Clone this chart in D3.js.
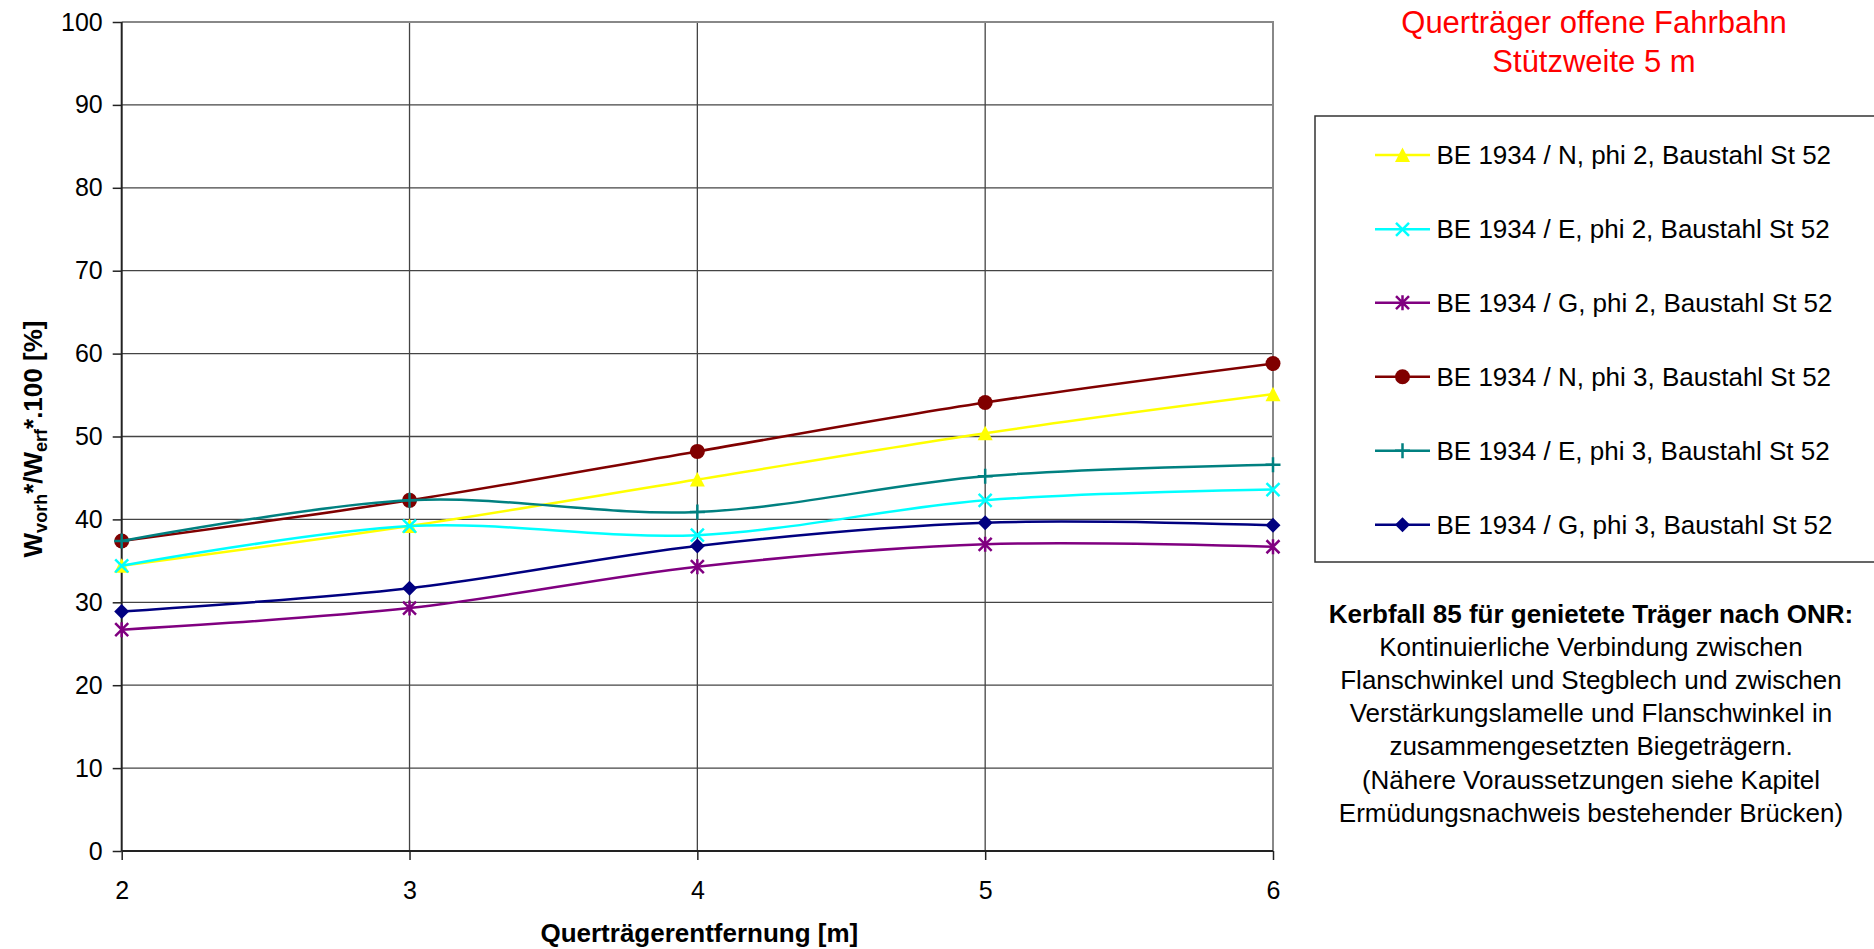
<!DOCTYPE html>
<html>
<head>
<meta charset="utf-8">
<script src="https://cdn.jsdelivr.net/npm/d3@7"></script>
<style>
  html, body { margin: 0; padding: 0; background: #fff; }
  svg { display: block; font-family: "Liberation Sans", Arial, sans-serif; }
</style>
</head>
<body>
<svg id="chart" width="1874" height="949"></svg>
<script>
// ---- data ----
const categories = [2, 3, 4, 5, 6];
const seriesNames = [
  "BE 1934 / N, phi 2, Baustahl St 52",
  "BE 1934 / E, phi 2, Baustahl St 52",
  "BE 1934 / G, phi 2, Baustahl St 52",
  "BE 1934 / N, phi 3, Baustahl St 52",
  "BE 1934 / E, phi 3, Baustahl St 52",
  "BE 1934 / G, phi 3, Baustahl St 52"
];
const valuesNphi2 = [34.4, 39.2, 44.8, 50.4, 55.1];
const valuesEphi2 = [34.4, 39.2, 38.1, 42.3, 43.6];
const valuesGphi2 = [26.7, 29.3, 34.3, 37.0, 36.7];
const valuesNphi3 = [37.4, 42.3, 48.2, 54.1, 58.8];
const valuesEphi3 = [37.4, 42.3, 40.9, 45.2, 46.6];
const valuesGphi3 = [28.9, 31.7, 36.8, 39.6, 39.3];
const yTicks = [0, 10, 20, 30, 40, 50, 60, 70, 80, 90, 100];
const xTicks = [2, 3, 4, 5, 6];
const titleLines = ["Querträger offene Fahrbahn", "Stützweite 5 m"];
const xTitle = "Querträgerentfernung [m]";
const noteBold = "Kerbfall 85 für genietete Träger nach ONR:";
const noteLines = [
  "Kontinuierliche Verbindung zwischen",
  "Flanschwinkel und Stegblech und zwischen",
  "Verstärkungslamelle und Flanschwinkel in",
  "zusammengesetzten Biegeträgern.",
  "(Nähere Voraussetzungen siehe Kapitel",
  "Ermüdungsnachweis bestehender Brücken)"
];

// ---- styles ----
const colors = ["#FFFF00", "#00FFFF", "#800080", "#800000", "#008080", "#000080"];
const markers = ["triangle", "x", "star", "circle", "plus", "diamond"];
const allValues = [valuesNphi2, valuesEphi2, valuesGphi2, valuesNphi3, valuesEphi3, valuesGphi3];

const svg = d3.select("#chart");
svg.append("rect").attr("width", 1874).attr("height", 949).attr("fill", "#fff");

const L = 121.7, R = 1273, T = 22, B = 851;
const x = d3.scaleLinear().domain([2, 6]).range([L, R]);
const y = d3.scaleLinear().domain([0, 100]).range([B, T]);

// gridlines
const grid = svg.append("g");
grid.selectAll(".hg").data(yTicks.filter(d => d > 0 && d < 100)).join("line")
  .attr("x1", L).attr("x2", R).attr("y1", d => y(d)).attr("y2", d => y(d))
  .attr("stroke", "#444").attr("stroke-width", 1.3);
grid.selectAll(".vg").data(xTicks.filter(d => d > 2 && d < 6)).join("line")
  .attr("y1", T).attr("y2", B).attr("x1", d => x(d)).attr("x2", d => x(d))
  .attr("stroke", "#444").attr("stroke-width", 1.3);
// plot border top/right
svg.append("path").attr("d", `M${L},${T}H${R}V${B}`).attr("fill", "none")
  .attr("stroke", "#888").attr("stroke-width", 2);

// axes
const yAxis = d3.axisLeft(y).tickValues(yTicks).tickSize(9).tickPadding(10).tickFormat(d3.format("d"));
const gy = svg.append("g").attr("transform", `translate(${L},0)`).call(yAxis);
const xAxis = d3.axisBottom(x).tickValues(xTicks).tickSize(9).tickPadding(21).tickFormat(d3.format("d"));
const gx = svg.append("g").attr("transform", `translate(0,${B})`).call(xAxis);
[gx, gy].forEach(g => {
  g.select(".domain").attr("stroke", "#222").attr("stroke-width", 2);
  g.selectAll(".tick line").attr("stroke", "#222").attr("stroke-width", 1.5);
  g.selectAll(".tick text").attr("font-family", "Liberation Sans, Arial, sans-serif")
    .attr("font-size", 25).attr("fill", "#000");
});
gx.select(".domain").attr("d", `M${L},0H${R}`);
gy.select(".domain").attr("d", `M0,${T}V${B}`);

// marker drawing
function drawMarker(g, type, color) {
  const s = 7.5;
  if (type === "triangle") {
    g.append("path").attr("d", `M0,${-s}L${s},${s - 0.5}L${-s},${s - 0.5}Z`).attr("fill", color);
  } else if (type === "circle") {
    g.append("circle").attr("r", s).attr("fill", color);
  } else if (type === "diamond") {
    g.append("path").attr("d", `M0,${-s}L${s},0L0,${s}L${-s},0Z`).attr("fill", color);
  } else if (type === "x") {
    const a = 6.5;
    g.append("path").attr("d", `M${-a},${-a}L${a},${a}M${a},${-a}L${-a},${a}`)
      .attr("stroke", color).attr("stroke-width", 2.5).attr("fill", "none");
  } else if (type === "star") {
    const a = 6.5;
    g.append("path").attr("d", `M${-a},${-a}L${a},${a}M${a},${-a}L${-a},${a}M0,${-s}L0,${s}`)
      .attr("stroke", color).attr("stroke-width", 2.5).attr("fill", "none");
  } else if (type === "plus") {
    g.append("path").attr("d", `M${-s},0L${s},0M0,${-s}L0,${s}`)
      .attr("stroke", color).attr("stroke-width", 2.5).attr("fill", "none");
  }
}

// series
const line = d3.line().x((d, i) => x(categories[i])).y(d => y(d)).curve(d3.curveCardinal.tension(0));
const plot = svg.append("g");
allValues.forEach((vals, si) => {
  const g = plot.append("g");
  g.append("path").attr("d", line(vals)).attr("fill", "none")
    .attr("stroke", colors[si]).attr("stroke-width", 2.5);
  vals.forEach((v, i) => {
    const mg = g.append("g").attr("transform", `translate(${x(categories[i])},${y(v)})`);
    drawMarker(mg, markers[si], colors[si]);
  });
});

// axis titles
svg.append("text").attr("x", (L + R) / 2 + 2).attr("y", 942).attr("text-anchor", "middle")
  .attr("font-size", 26).attr("font-weight", "bold").text(xTitle);

const yt = svg.append("text").attr("transform", "translate(42,439) rotate(-90)")
  .attr("text-anchor", "middle").attr("font-size", 26).attr("font-weight", "bold");
yt.append("tspan").text("W");
yt.append("tspan").attr("font-size", 18).attr("dy", 5).text("vorh");
yt.append("tspan").attr("dy", -5).text("*/W");
yt.append("tspan").attr("font-size", 18).attr("dy", 5).text("erf");
yt.append("tspan").attr("dy", -5).text("*.100 [%]");

// chart title
svg.append("g").selectAll("text").data(titleLines).join("text")
  .attr("x", 1594).attr("y", (d, i) => 33 + i * 39).attr("text-anchor", "middle")
  .attr("font-size", 31).attr("fill", "#FF0000").text(d => d);

// legend
svg.append("rect").attr("x", 1315).attr("y", 116).attr("width", 600).attr("height", 446)
  .attr("fill", "#fff").attr("stroke", "#333").attr("stroke-width", 1.5);
const legendY = [155, 229.3, 302.7, 376.7, 450.7, 524.7];
seriesNames.forEach((name, si) => {
  const g = svg.append("g").attr("transform", `translate(0,${legendY[si]})`);
  g.append("line").attr("x1", 1375).attr("x2", 1430).attr("y1", 0).attr("y2", 0)
    .attr("stroke", colors[si]).attr("stroke-width", 2.5);
  const mg = g.append("g").attr("transform", "translate(1402.5,0)");
  drawMarker(mg, markers[si], colors[si]);
  g.append("text").attr("x", 1436.5).attr("y", 0).attr("dy", "0.35em")
    .attr("font-size", 26).attr("fill", "#000").text(name);
});

// note text
const note = svg.append("g");
note.append("text").attr("x", 1591).attr("y", 623).attr("text-anchor", "middle")
  .attr("font-size", 26).attr("font-weight", "bold").text(noteBold);
note.selectAll(".nl").data(noteLines).join("text")
  .attr("x", 1591).attr("y", (d, i) => 623 + (i + 1) * 33.1).attr("text-anchor", "middle")
  .attr("font-size", 26).attr("fill", "#000").text(d => d);
</script>
</body>
</html>
